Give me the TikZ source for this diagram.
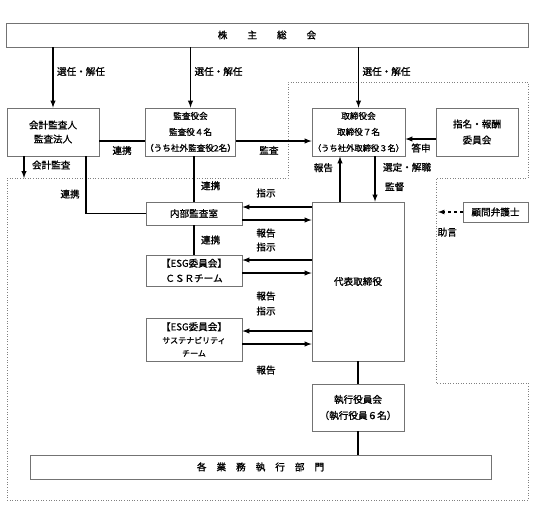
\documentclass[tikz,border=0pt]{standalone}
\usepackage{fontspec}
\setmainfont{Noto Sans CJK JP}[FakeBold=1.2]
\usetikzlibrary{arrows}
\tikzstyle{every node}=[font=\fontsize{9.6}{13}\selectfont]
\tikzstyle{box}=[draw=black!55,line width=0.8pt,align=center,inner sep=0pt]
\tikzstyle{small}=[font=\fontsize{8.6}{16}\selectfont]

\begin{document}
\begin{tikzpicture}[x=1pt,y=-1pt,>=latex,line width=1.4pt]
	\useasboundingbox (0,0) rectangle (538,512);
	\draw[black!50,dotted,line width=0.6pt] (7,178) -- (288,178) -- (288,82) -- (528,82) -- (528,178) -- (436,178) -- (436,383) -- (528,383) -- (528,500) -- (7,500) -- cycle;

	\node[box,minimum width=522pt,minimum height=24pt] (sokai) at (267,35) {株\hspace{20pt}主\hspace{20pt}総\hspace{20pt}会};
	\node[box,minimum width=92pt,minimum height=48pt] (kaikei) at (53,132) {会計監査人\\[1pt]監査法人};
	\node[box,small,minimum width=89pt,minimum height=48pt] (kansa) at (190.5,132) {監査役会\\監査役４名\\（うち社外監査役2名）};
	\node[box,small,minimum width=93pt,minimum height=48pt] (torishimari) at (358.5,132) {取締役会\\取締役７名\\{\fontsize{8.3}{10}\selectfont（うち社外取締役３名）}};
	\node[box,minimum width=82pt,minimum height=48pt] (shimei) at (477,132) {指名・報酬\\[3pt]委員会};

	\node[box,minimum width=96pt,minimum height=23pt] (naibu) at (194,213.5) {内部監査室};
	\node[box,minimum width=96pt,minimum height=31pt] (csr) at (194,270.5) {【ESG委員会】\\[2pt]ＣＳＲチーム};
	\node[box,minimum width=96pt,minimum height=43pt] (sustain) at (194,339.5) {【ESG委員会】\\{\fontsize{8}{12}\selectfont サステナビリティ}\\{\fontsize{8}{10}\selectfont チーム}};
	\node[box,minimum width=92pt,minimum height=159pt] (daihyo) at (358,281.5) {代表取締役};
	\node[box,minimum width=65pt,minimum height=20pt] (komon) at (495.5,212) {顧問弁護士};
	\node[box,minimum width=92pt,minimum height=47pt] (shikko) at (358,407.5) {執行役員会\\[3pt]（執行役員６名）};
	\node[box,minimum width=461pt,minimum height=24pt] (kakugyomu) at (260.5,467) {各\hspace{10pt}業\hspace{10pt}務\hspace{10pt}執\hspace{10pt}行\hspace{10pt}部\hspace{10pt}門};

	\coordinate (kaikeiend) at (24,178);
	\coordinate (komonend) at (438,212);

	% election by shareholders
	\draw[->] (sokai.south -| kaikei) -- (kaikei.north) node[pos=0.4,right] (s1) {選任・解任};
	\draw[->] (sokai.south -| kansa) -- (kansa.north) node[pos=0.4,right] (s2) {選任・解任};
	\draw[->] (sokai.south -| torishimari) -- (torishimari.north) node[pos=0.4,right] (s3) {選任・解任};

	\draw (kaikei.east |- 0,141) -- (kansa.west |- 0,141) node[midway,below=1pt] (r1) {連携};
	\draw[->] (kansa.east |- 0,141) -- (torishimari.west |- 0,141) node[midway,below=1pt,xshift=-5pt] (k1) {監査};
	\draw[->] (shimei.west |- 0,139) -- (torishimari.east |- 0,139);
	\node (toshin) at (421,148) {答申};

	\draw[->] (kaikei.south -| kaikeiend) -- (kaikeiend) node[pos=0.4,right=4pt] (k2) {会計監査};
	\draw (kaikei.south -| 86,0) |- (naibu.west);
	\node (r2) at (70,194) {連携};
	\draw (naibu.north |- kansa.south) -- (naibu.north) node[pos=0.65,right=3pt] (r3) {連携};
	\draw (naibu.south) -- (csr.north) node[midway,right=3pt] (r4) {連携};

	\draw[->] (daihyo.north -| 340,0) -- (torishimari.south -| 340,0) node[pos=0.75,left=3pt] (h1) {報告};
	\draw[->] (torishimari.south -| 375,0) -- (daihyo.north -| 375,0)
		node[pos=0.24,right=4pt] (sentei) {選定・解職}
		node[pos=0.67,right=6pt] (kantoku) {監督};

	% instructions and reports
	\foreach \b/\ya/\yb in {naibu/207/220,csr/260/273,sustain/331/344}{
		\draw[<-] (\b.east |- 0,\ya) -- (daihyo.west |- 0,\ya);
		\draw[->] (\b.east |- 0,\yb) -- (daihyo.west |- 0,\yb);
	}
	\foreach \y/\t in {193/指示,233/報告,247/指示,296/報告,311/指示,370/報告}
		\node at (266,\y) {\t};

	\draw (daihyo.south) -- (shikko.north);
	\draw (shikko.south) -- (shikko.south |- kakugyomu.north);

	\draw[->,dashed,line width=1.2pt] (komon.west) -- (komonend);
	\node[anchor=north west,inner sep=1pt] (jogen) at (436,226) {助言};
\end{tikzpicture}
\end{document}
